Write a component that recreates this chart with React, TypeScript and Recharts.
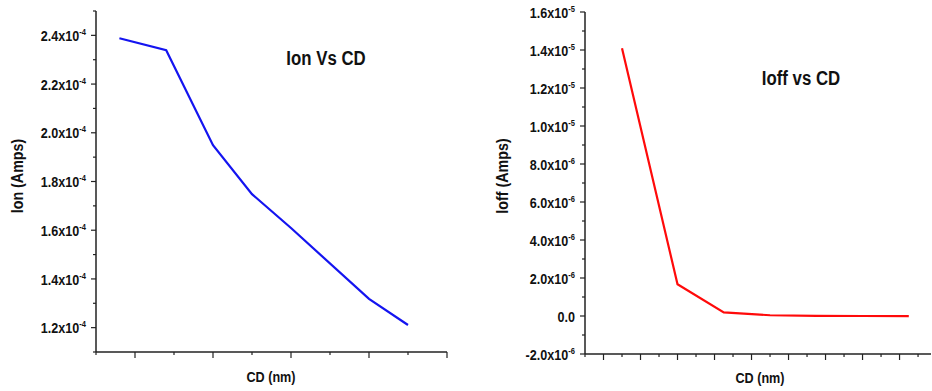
import React from "react";
import { LineChart, Line, XAxis, YAxis } from "recharts";

// CD positions are in axis-tick units (the source axis has no numbers)
const cdIon = [0.6, 1.8, 3, 4, 5, 7, 8];
const ionAmps = [2.388e-4, 2.339e-4, 1.949e-4, 1.748e-4, 1.609e-4, 1.318e-4, 1.211e-4];

const cdIoff = [2, 5, 7.5, 10, 12.5, 15, 17.5];
const ioffAmps = [1.409e-5, 1.67e-6, 1.9e-7, 4e-8, 1e-8, 0, -1e-8];

const ionTicks = [1.1e-4, 1.2e-4, 1.3e-4, 1.4e-4, 1.5e-4, 1.6e-4, 1.7e-4, 1.8e-4, 1.9e-4, 2.0e-4, 2.1e-4, 2.2e-4, 2.3e-4, 2.4e-4, 2.5e-4];
const ionTickLabels = ["", "1.2x10|-4", "", "1.4x10|-4", "", "1.6x10|-4", "", "1.8x10|-4", "", "2.0x10|-4", "", "2.2x10|-4", "", "2.4x10|-4", ""];

const ioffTicks = [-2e-6, -1e-6, 0, 1e-6, 2e-6, 3e-6, 4e-6, 5e-6, 6e-6, 7e-6, 8e-6, 9e-6, 1e-5, 1.1e-5, 1.2e-5, 1.3e-5, 1.4e-5, 1.5e-5, 1.6e-5];
const ioffTickLabels = ["-2.0x10|-6", "", "0.0", "", "2.0x10|-6", "", "4.0x10|-6", "", "6.0x10|-6", "", "8.0x10|-6", "", "1.0x10|-5", "", "1.2x10|-5", "", "1.4x10|-5", "", "1.6x10|-5"];

const ionXTicks = [0, 1, 2, 3, 4, 5, 6, 7, 8, 9];
const ioffXTicks = [0, 1, 2, 3, 4, 5, 6, 7, 8, 9, 10, 11, 12, 13, 14, 15, 16, 17, 18];

const ionData = cdIon.map((cd, i) => ({ cd, ion: ionAmps[i] }));
const ioffData = cdIoff.map((cd, i) => ({ cd, ioff: ioffAmps[i] }));

const FONT = "'Liberation Sans', Arial, sans-serif";
const AXIS = "#222";
const SQUEEZE = 0.84; // source uses a narrow bold face

function makeYTick(ticks: number[], labels: string[]) {
  return (props: any) => {
    const { x, y, payload } = props;
    const idx = ticks.findIndex((t) => Math.abs(t - payload.value) < 1e-12);
    const label = idx >= 0 ? labels[idx] : "";
    const major = label !== "";
    const [base, exp] = label.split("|");
    return (
      <g>
        <line x1={x - (major ? 5 : 3)} y1={y} x2={x} y2={y} stroke={AXIS} strokeWidth={1.2} />
        {major && (
          <text
            transform={`translate(${x - 10},${y}) scale(${SQUEEZE},1)`}
            x={0}
            y={0}
            dy="0.38em"
            textAnchor="end"
            fontFamily={FONT}
            fontWeight="bold"
            fontSize={15}
            fill="#111"
          >
            {base}
            {exp && (
              <tspan dy={-6} fontSize={9}>
                {exp}
              </tspan>
            )}
          </text>
        )}
      </g>
    );
  };
}

function makeXTick(isMajor: (v: number) => boolean) {
  return (props: any) => {
    const { x, y, payload } = props;
    const len = isMajor(payload.value) ? 6 : 3;
    return <line x1={x} y1={y} x2={x} y2={y + len} stroke={AXIS} strokeWidth={1.2} />;
  };
}

const textStyle: React.CSSProperties = {
  position: "absolute",
  fontFamily: FONT,
  fontWeight: "bold",
  color: "#111",
  whiteSpace: "nowrap",
  transform: `translate(-50%, -50%) scale(${SQUEEZE}, 1)`,
};

const vertStyle: React.CSSProperties = {
  ...textStyle,
  transform: `translate(-50%, -50%) rotate(-90deg) scale(${SQUEEZE}, 1)`,
};

export default function App() {
  return (
    <div style={{ position: "absolute", left: 0, top: 0, width: 932, height: 391, background: "#fff", overflow: "hidden" }}>
      <div style={{ position: "absolute", left: 0, top: 0 }}>
        <LineChart width={470} height={391} data={ionData} margin={{ top: 11, right: 23, bottom: 0, left: 0 }}>
          <XAxis
            dataKey="cd"
            type="number"
            domain={[0, 9]}
            ticks={ionXTicks}
            interval={0}
            height={39}
            tickSize={0}
            tickMargin={0}
            tickLine={false}
            axisLine={{ stroke: AXIS, strokeWidth: 1.5 }}
            tick={makeXTick((v) => v % 2 === 1)}
          />
          <YAxis
            type="number"
            domain={[1.1e-4, 2.5e-4]}
            ticks={ionTicks}
            interval={0}
            width={96}
            tickSize={0}
            tickMargin={0}
            tickLine={false}
            axisLine={{ stroke: AXIS, strokeWidth: 1.5 }}
            tick={makeYTick(ionTicks, ionTickLabels)}
          />
          <Line type="linear" dataKey="ion" stroke="#1414f0" strokeWidth={2.2} dot={false} isAnimationActive={false} />
        </LineChart>
      </div>
      <div style={{ position: "absolute", left: 470, top: 0 }}>
        <LineChart width={462} height={391} data={ioffData} margin={{ top: 12, right: 1, bottom: 0, left: 0 }}>
          <XAxis
            dataKey="cd"
            type="number"
            domain={[0, 18.7]}
            ticks={ioffXTicks}
            interval={0}
            height={37}
            tickSize={0}
            tickMargin={0}
            tickLine={false}
            axisLine={{ stroke: AXIS, strokeWidth: 1.5 }}
            tick={makeXTick((v) => v % 2 === 1)}
          />
          <YAxis
            type="number"
            domain={[-2e-6, 1.6e-5]}
            ticks={ioffTicks}
            interval={0}
            width={115}
            tickSize={0}
            tickMargin={0}
            tickLine={false}
            axisLine={{ stroke: AXIS, strokeWidth: 1.5 }}
            tick={makeYTick(ioffTicks, ioffTickLabels)}
          />
          <Line type="linear" dataKey="ioff" stroke="#ff0a0a" strokeWidth={2.2} dot={false} isAnimationActive={false} />
        </LineChart>
      </div>

      <div style={{ ...textStyle, left: 326, top: 58, fontSize: 20 }}>Ion Vs CD</div>
      <div style={{ ...textStyle, left: 801, top: 78, fontSize: 20 }}>Ioff vs CD</div>
      <div style={{ ...vertStyle, left: 18, top: 176, fontSize: 17 }}>Ion (Amps)</div>
      <div style={{ ...vertStyle, left: 503, top: 176, fontSize: 17 }}>Ioff (Amps)</div>
      <div style={{ ...textStyle, left: 271, top: 376, fontSize: 15 }}>CD (nm)</div>
      <div style={{ ...textStyle, left: 760, top: 377, fontSize: 15 }}>CD (nm)</div>
    </div>
  );
}
